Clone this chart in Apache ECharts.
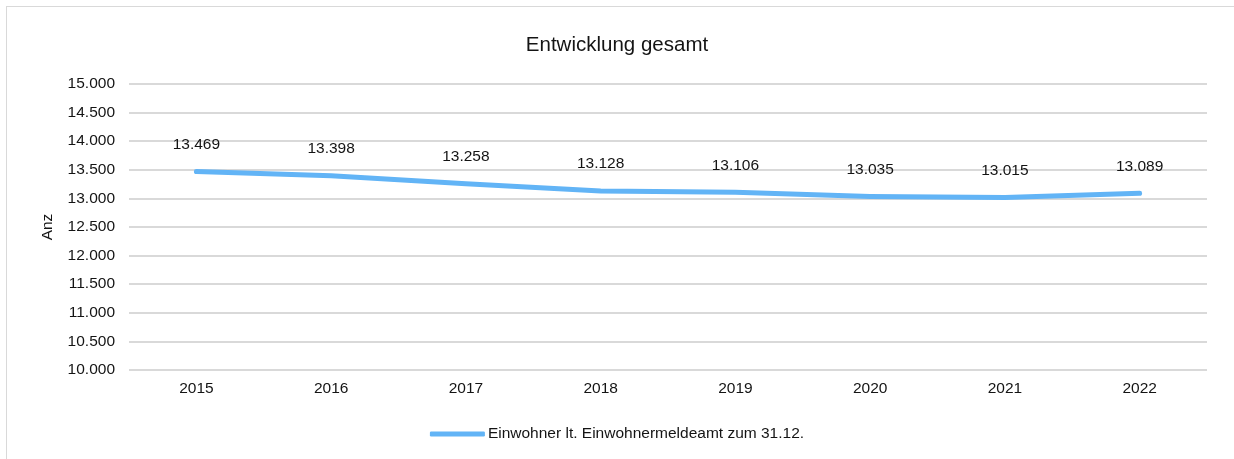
<!DOCTYPE html>
<html>
<head>
<meta charset="utf-8">
<script src="https://cdn.jsdelivr.net/npm/echarts@6/dist/echarts.min.js"></script>
<style>
  html, body { margin: 0; padding: 0; background: #fff; overflow: hidden; }
  #frame { position: absolute; left: 6px; top: 6px; width: 1240px; height: 470px;
           border: 1.5px solid #d9d9d9; box-sizing: border-box; }
  #chart { position: absolute; left: 0; top: 0; width: 1234px; height: 459px; }
</style>
</head>
<body>
<div id="frame"></div>
<div id="chart"></div>
<script>
/**
 * DATA
 */
var years = ['2015', '2016', '2017', '2018', '2019', '2020', '2021', '2022'];
var einwohner = [13469, 13398, 13258, 13128, 13106, 13035, 13015, 13089];
var seriesName = 'Einwohner lt. Einwohnermeldeamt zum 31.12.';
var chartTitle = 'Entwicklung gesamt';
var axisName = 'Anz';

// 13469 -> "13.469"
function deNumber(v) {
    return String(v).replace(/\B(?=(\d{3})+(?!\d))/g, '.');
}

var font = '"Liberation Sans", Arial, sans-serif';
var textColor = '#141414';
var chart = echarts.init(document.getElementById('chart'), null, {renderer: 'canvas'});
chart.setOption({
    animation: false,
    textStyle: {fontFamily: font},
    title: {
        text: chartTitle,
        left: 'center',
        top: 30,
        textStyle: {fontSize: 20.5, fontWeight: 'normal', color: textColor, fontFamily: font}
    },
    legend: {
        bottom: 12,
        left: 'center',
        itemWidth: 55,
        itemHeight: 5,
        itemGap: 4,
        icon: 'roundRect',
        textStyle: {fontSize: 15.5, color: textColor, fontFamily: font, padding: [0, 0, 0, -2]},
        data: [seriesName]
    },
    grid: {left: 129, right: 27, top: 84, bottom: 89, containLabel: false},
    xAxis: {
        type: 'category',
        data: years,
        boundaryGap: true,
        axisLine: {show: false},
        axisTick: {show: false},
        axisLabel: {fontSize: 15.5, color: textColor, margin: 11}
    },
    yAxis: {
        type: 'value',
        min: 10000,
        max: 15000,
        interval: 500,
        name: axisName,
        nameLocation: 'middle',
        nameGap: 73,
        nameRotate: 90,
        nameTextStyle: {fontSize: 15.5, color: textColor},
        axisLine: {show: false},
        axisTick: {show: false},
        axisLabel: {fontSize: 15.5, color: textColor, margin: 14, formatter: deNumber},
        splitLine: {lineStyle: {color: '#d9d9d9', width: 2}}
    },
    series: [{
        name: seriesName,
        type: 'line',
        data: einwohner,
        symbol: 'circle',
        symbolSize: 0,
        showSymbol: true,
        smooth: false,
        lineStyle: {color: '#62b4f6', width: 5, cap: 'round', join: 'round'},
        itemStyle: {color: '#62b4f6'},
        label: {
            show: true,
            position: 'top',
            distance: 19,
            fontSize: 15.5,
            color: textColor,
            formatter: function (p) { return deNumber(p.value); }
        }
    }]
});
</script>
</body>
</html>
